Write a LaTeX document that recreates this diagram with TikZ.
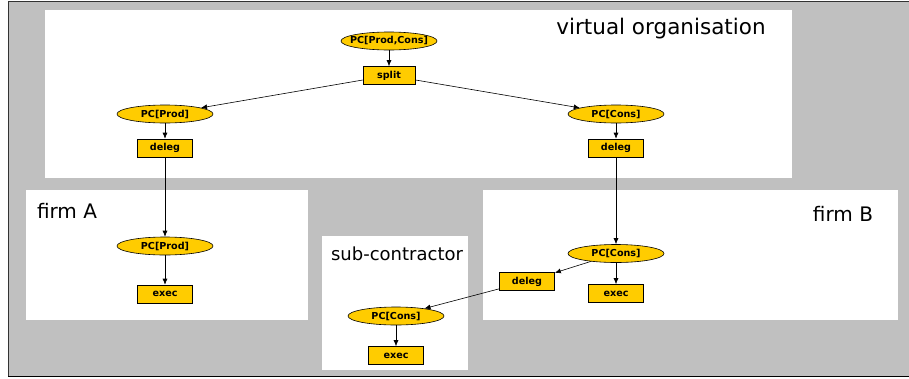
\documentclass[tikz,border=0pt]{standalone}
\usepackage{fontspec}
\setmainfont{DejaVu Sans}
\usetikzlibrary{shapes.geometric,arrows.meta}
\definecolor{pcyellow}{RGB}{255,204,0}
\definecolor{bggray}{RGB}{192,192,192}

\begin{document}
\begin{tikzpicture}[x=1pt,y=-1pt,
        pc/.style={ellipse,draw=black,fill=pcyellow,line width=0.6pt,inner xsep=-6pt,inner ysep=0pt,
                minimum width=96pt,minimum height=18pt,font=\fontsize{9.6}{10}\selectfont\bfseries},
        act/.style={rectangle,draw=black,fill=pcyellow,line width=0.6pt,inner sep=0pt,
                minimum width=55pt,minimum height=18pt,font=\fontsize{9.6}{10}\selectfont\bfseries},
        area/.style={fill=white},
        lbl/.style={font=\fontsize{20}{23}\selectfont},
        link/.style={-{Latex[length=6pt,width=5pt]},line width=0.6pt}]
        \useasboundingbox (0,0) rectangle (909,378);
        \fill[bggray] (8,1) rectangle (909,377);
        \draw[gray!40!black, line width=1.4pt] (8.7,376) -- (8.7,1.6) -- (909,1.6);
        \draw[black, line width=1.4pt] (8,376.3) -- (909,376.3);

        \fill[area] (45,10) rectangle (792,178);
        \fill[area] (26,190) rectangle (308,320);
        \fill[area] (483,190) rectangle (898,320);
        \fill[area] (322,236) rectangle (468,370);

        \node[lbl, font=\fontsize{21.5}{24}\selectfont] (tvo) at (661,29) {virtual organisation};
        \node[lbl] (tfa) at (67,211) {firm A};
        \node[lbl] (tfb) at (843,214) {firm B};
        \node[lbl, font=\fontsize{18}{21}\selectfont] (tsc) at (397,254) {sub-contractor};

        \node[pc] (pcall) at (389,41) {PC[Prod,Cons]};
        \node[act, minimum width=52pt] (split) at (389,75.5) {split};
        \node[pc] (pcprod) at (165,114) {PC[Prod]};
        \node[act] (delegp) at (165,148) {deleg};
        \node[pc] (pccons) at (616,114) {PC[Cons]};
        \node[act] (delegc) at (616,148) {deleg};

        \node[pc] (pcprodA) at (165,246) {PC[Prod]};
        \node[act] (execA) at (165,294) {exec};

        \node[pc] (pcconsB) at (616,253.5) {PC[Cons]};
        \node[act] (execB) at (616,293.5) {exec};
        \node[act] (delegB) at (527,281.5) {deleg};

        \node[pc] (pcconsS) at (396,316) {PC[Cons]};
        \node[act] (execS) at (396,355.5) {exec};

        \draw[link] (pcall) -- (split);
        \draw[link] (split) -- (pcprod);
        \draw[link] (split) -- (pccons);
        \draw[link] (pcprod) -- (delegp);
        \draw[link] (pccons) -- (delegc);
        \draw[link] (delegp) -- (pcprodA);
        \draw[link] (pcprodA) -- (execA);
        \draw[link] (delegc) -- (pcconsB);
        \draw[link] (pcconsB) -- (execB);
        \draw[link] (pcconsB) -- (delegB);
        \draw[link] (delegB) -- (pcconsS);
        \draw[link] (pcconsS) -- (execS);
\end{tikzpicture}
\end{document}
